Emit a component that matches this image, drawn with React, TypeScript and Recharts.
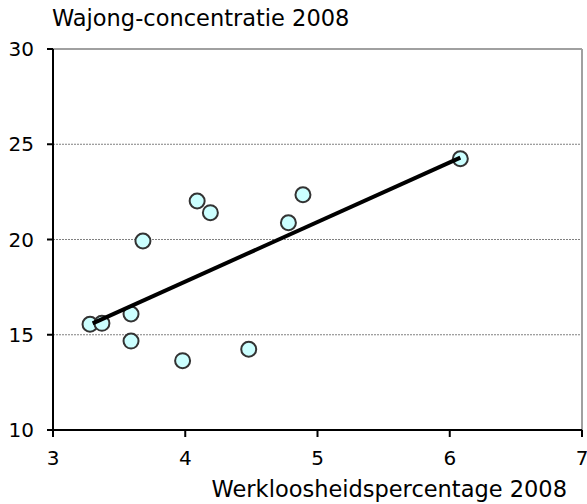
import React from "react";
import {
  ScatterChart,
  Scatter,
  XAxis,
  YAxis,
  CartesianGrid,
  ReferenceLine,
  Label,
} from "recharts";

const unemployment = [3.28, 3.37, 3.59, 3.59, 3.68, 3.98, 4.09, 4.19, 4.48, 4.78, 4.89, 6.08];
const wajong = [15.55, 15.6, 16.09, 14.67, 19.92, 13.64, 22.02, 21.41, 14.24, 20.88, 22.35, 24.24];
const trendX = [3.3, 6.08];
const trendY = [15.6, 24.3];
const xTicks = [3, 4, 5, 6, 7];
const yTicks = [10, 15, 20, 25, 30];

const points = unemployment.map((x, i) => ({ x, y: wajong[i] }));
const trend = trendX.map((x, i) => ({ x, y: trendY[i] }));

const FONT = "'DejaVu Sans', Verdana, sans-serif";

const Dot = (props: any) => {
  const { cx, cy } = props;
  return <circle cx={cx} cy={cy} r={7.5} fill="#ccffff" stroke="#333333" strokeWidth={2} />;
};

const NoDot = () => <g />;

export default function App() {
  return (
    <div style={{ position: "absolute", left: 0, top: 0, width: 587, height: 504, background: "#fff" }}>
      <ScatterChart
        width={587}
        height={504}
        margin={{ top: 49, right: 5, bottom: 44, left: 0 }}
        style={{ fontFamily: FONT }}
      >
        <CartesianGrid horizontal vertical={false} stroke="#808080" strokeDasharray="2 1" />
        <XAxis
          type="number"
          dataKey="x"
          domain={[3, 7]}
          ticks={xTicks}
          interval={0}
          height={30}
          allowDataOverflow
          axisLine={{ stroke: "#000", strokeWidth: 2 }}
          tickLine={{ stroke: "#000", strokeWidth: 2 }}
          tickSize={7}
          tickMargin={14}
          tick={{ fill: "#000", fontSize: 20, fontFamily: FONT }}
        >
          <Label
            content={() => (
              <text x={567} y={497} textAnchor="end" fontSize={22.5} fontFamily={FONT} fill="#000">
                Werkloosheidspercentage 2008
              </text>
            )}
          />
        </XAxis>
        <YAxis
          type="number"
          dataKey="y"
          domain={[10, 30]}
          ticks={yTicks}
          interval={0}
          width={53}
          allowDataOverflow
          axisLine={{ stroke: "#000", strokeWidth: 2 }}
          tickLine={{ stroke: "#000", strokeWidth: 2 }}
          tickSize={6}
          tickMargin={13}
          tick={{ fill: "#000", fontSize: 20, fontFamily: FONT }}
        >
          <Label
            content={() => (
              <text x={52} y={26} textAnchor="start" fontSize={22.5} fontFamily={FONT} fill="#000">
                Wajong-concentratie 2008
              </text>
            )}
          />
        </YAxis>
        <ReferenceLine y={30} stroke="#a0a0a0" strokeWidth={2} ifOverflow="extendDomain" />
        <ReferenceLine x={7} stroke="#a0a0a0" strokeWidth={2} ifOverflow="extendDomain" />
        <Scatter data={points} shape={<Dot />} isAnimationActive={false} />
        <Scatter
          data={trend}
          line={{ stroke: "#000", strokeWidth: 4 }}
          shape={<NoDot />}
          isAnimationActive={false}
        />
      </ScatterChart>
    </div>
  );
}
